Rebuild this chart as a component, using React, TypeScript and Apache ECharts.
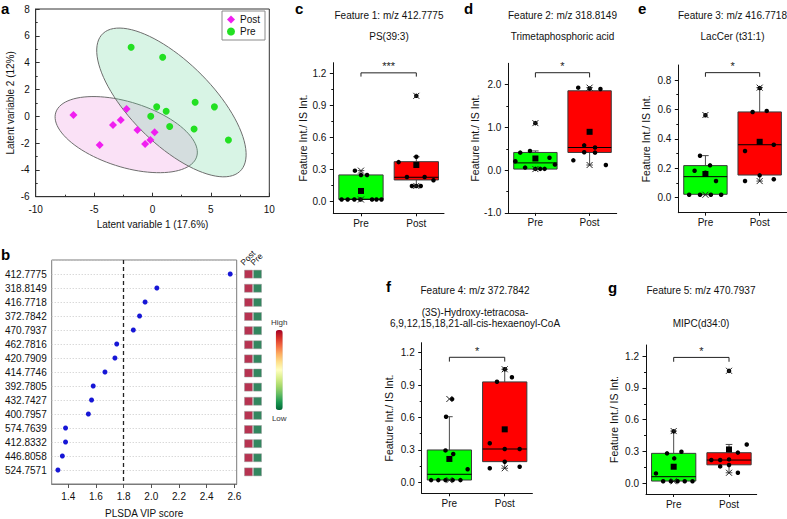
import React, { useEffect, useRef } from 'react';
import * as echarts from 'echarts';

// ---------- Panel a: PLS-DA scores ----------
const postScoreX = [-6.77, -4.52, -3.38, -2.72, -2.22, -1.29, -0.63, -0.18, 0.18];
const postScoreY = [0.1, -2.14, -0.65, -0.27, 0.55, -1.02, -2.06, -1.77, -1.19];
const preScoreX = [-1.83, 0.87, 0.36, 1.17, -0.15, 1.47, 3.65, 3.56, 5.3, 6.5];
const preScoreY = [5.15, 4.4, 0.7, 0.37, 0.0, -0.77, 1.04, -0.95, 0.7, -1.77];
// ellipse: [cx, cy, semi-axis-1 dx, dy, semi-axis-2 dx, dy] in score units
const postEllipse = [-2.25, -1.37, 6.02, -1.68, 0.92, 2.29];
const preEllipse = [1.62, 1.03, 5.84, -5.16, 2.61, 2.04];

// ---------- Panel b: VIP scores ----------
const vipFeatures = ['412.7775', '318.8149', '416.7718', '372.7842', '470.7937', '462.7816', '420.7909', '414.7746', '392.7805', '432.7427', '400.7957', '574.7639', '412.8332', '446.8058', '524.7571'];
const vipScores = [2.57, 2.04, 1.955, 1.915, 1.87, 1.75, 1.737, 1.665, 1.58, 1.568, 1.545, 1.38, 1.38, 1.357, 1.325];
const vipCutoff = 1.8;
const vipTicks = [1.4, 1.6, 1.8, 2.0, 2.2, 2.4, 2.6];
const postLevel = [1, 1, 1, 1, 1, 1, 1, 1, 1, 1, 1, 1, 1, 1, 1];
const preLevel = [0, 0, 0, 0, 0, 0, 0, 0, 0, 0, 0, 0, 0, 0, 0];
const cellGroups = ['Post', 'Pre'];

// ---------- Panels c-g: box plots ----------
const groupNames = ['Pre', 'Post'];
// box: [whiskerLow, Q1, median, Q3, whiskerHigh, mean, min, max]
const cPreVals = [0.29, 0.25, 0.25, 0.02, 0.02, 0.02, 0.02, 0.02, 0.02, 0.02];
const cPreJit = [-0.11, 0.0, 0.11, -0.35, -0.24, -0.12, -0.01, 0.2, 0.28, 0.37];
const cPreBox = [0.02, 0.022, 0.022, 0.25, 0.29, 0.1, 0.02, 0.29];
const cPostVals = [0.37, 0.42, 0.23, 0.23, 0.2, 0.147, 0.147, 0.147, 0.99];
const cPostJit = [-0.32, 0, -0.17, 0.15, 0.31, -0.08, 0, 0.08, 0];
const cPostBox = [0.147, 0.203, 0.228, 0.374, 0.42, 0.343, 0.147, 0.99];
const cTicks = [0, 0.3, 0.6, 0.9, 1.2];
const cBracket = [1.17, 1.205];

const dPreVals = [0.41, 0.45, 0.21, 0.06, 0.29, 0.13, 0.03, 0.03, 0.03, 1.1];
const dPreJit = [-0.28, -0.1, -0.37, -0.19, 0.26, 0.36, 0.0, 0.09, 0.17, 0.0];
const dPreBox = [0.025, 0.025, 0.17, 0.414, 0.45, 0.273, 0.025, 1.1];
const dPostVals = [1.93, 1.91, 1.9, 0.58, 0.42, 0.53, 0.41, 0.23, 0.12];
const dPostJit = [-0.21, 0, 0.2, -0.1, -0.1, 0.1, 0.1, -0.3, 0.3];
const dPostBox = [0.12, 0.414, 0.53, 1.857, 1.93, 0.897, 0.12, 1.93];
const dTicks = [-1, 0, 1, 2];
const dBracket = [2.17, 2.28];

const ePreVals = [0.285, 0.183, 0.17, 0.22, 0.113, 0.02, 0.02, 0.02, 0.02, 0.56];
const ePreJit = [-0.1, -0.2, 0, 0.085, 0.195, -0.3, -0.1, 0.1, 0.29, 0];
const ePreBox = [0.02, 0.023, 0.143, 0.218, 0.286, 0.161, 0.02, 0.562];
const ePostVals = [0.583, 0.59, 0.317, 0.38, 0.36, 0.152, 0.113, 0.125, 0.745];
const ePostJit = [-0.13, 0.13, -0.27, 0, 0.26, 0, -0.27, 0.26, 0];
const ePostBox = [0.113, 0.154, 0.36, 0.583, 0.748, 0.38, 0.113, 0.748];
const eTicks = [0, 0.2, 0.4, 0.6, 0.8];
const eBracket = [0.822, 0.85];

const fPreVals = [0.77, 0.607, 0.295, 0.262, 0.12, 0.02, 0.02, 0.02, 0.02, 0.02];
const fPreJit = [0.05, -0.06, -0.07, 0.07, 0.33, -0.33, -0.2, -0.07, 0.06, 0.2];
const fPreBox = [0.02, 0.021, 0.074, 0.299, 0.607, 0.216, 0.02, 0.771];
const fPostVals = [0.93, 0.972, 1.046, 0.361, 0.308, 0.308, 0.19, 0.13, 0.144];
const fPostJit = [-0.14, 0.13, 0, -0.27, 0, 0.27, 0, -0.27, 0.27];
const fPostBox = [0.13, 0.191, 0.308, 0.929, 1.046, 0.49, 0.13, 1.046];
const fTicks = [0, 0.3, 0.6, 0.9, 1.2];
const fBracket = [1.117, 1.157];

const gPreVals = [0.094, 0.283, 0.236, 0.298, 0.49, 0.02, 0.02, 0.02, 0.02, 0.02];
const gPreJit = [-0.32, -0.12, 0.01, 0.14, 0, -0.19, -0.05, 0.07, 0.2, 0.34];
const gPreBox = [0.02, 0.022, 0.063, 0.283, 0.493, 0.157, 0.02, 0.493];
const gPostVals = [0.22, 0.22, 0.16, 0.226, 0.173, 0.29, 0.367, 0.1, 1.06];
const gPostJit = [-0.32, -0.16, -0.16, 0, 0, 0.16, 0.32, 0.16, 0];
const gPostBox = [0.1, 0.175, 0.22, 0.289, 0.367, 0.32, 0.1, 1.061];
const gTicks = [0, 0.3, 0.6, 0.9, 1.2];
const gBracket = [1.146, 1.187];

const boxPanels = [
  { letter: 'c', titles: ['Feature 1: m/z 412.7775', 'PS(39:3)'], pre: [cPreVals, cPreJit, cPreBox], post: [cPostVals, cPostJit, cPostBox], ticks: cTicks, bracket: cBracket, sig: '***' },
  { letter: 'd', titles: ['Feature 2: m/z 318.8149', 'Trimetaphosphoric acid'], pre: [dPreVals, dPreJit, dPreBox], post: [dPostVals, dPostJit, dPostBox], ticks: dTicks, bracket: dBracket, sig: '*' },
  { letter: 'e', titles: ['Feature 3: m/z 416.7718', 'LacCer (t31:1)'], pre: [ePreVals, ePreJit, ePreBox], post: [ePostVals, ePostJit, ePostBox], ticks: eTicks, bracket: eBracket, sig: '*' },
  { letter: 'f', titles: ['Feature 4: m/z 372.7842', '(3S)-Hydroxy-tetracosa-', '6,9,12,15,18,21-all-cis-hexaenoyl-CoA'], pre: [fPreVals, fPreJit, fPreBox], post: [fPostVals, fPostJit, fPostBox], ticks: fTicks, bracket: fBracket, sig: '*' },
  { letter: 'g', titles: ['Feature 5: m/z 470.7937', 'MIPC(d34:0)'], pre: [gPreVals, gPreJit, gPreBox], post: [gPostVals, gPostJit, gPostBox], ticks: gTicks, bracket: gBracket, sig: '*' },
];

// ---------- layout & style ----------
const FONT = '"Liberation Sans", Arial, Helvetica, sans-serif';
const INK = '#111';
const boxLayouts = [
  { left: 333.3, top: 62.7, width: 110.7, height: 150.6, min: -0.109, max: 1.3, nameGap: 24, cx: 389, ty: [15, 36] },
  { left: 508.3, top: 63.3, width: 108.4, height: 149.6, min: -1, max: 2.5, nameGap: 28, cx: 562.5, ty: [15, 36] },
  { left: 678.3, top: 65, width: 108.5, height: 147.7, min: -0.102, max: 0.902, nameGap: 27, cx: 732.5, ty: [15, 36] },
  { left: 421.7, top: 342.7, width: 110.7, height: 150.6, min: -0.102, max: 1.292, nameGap: 27, cx: 475, ty: [290.7, 312.3, 323.3] },
  { left: 646, top: 345, width: 110.7, height: 149, min: -0.1, max: 1.304, nameGap: 27, cx: 701, ty: [290.7, 323.3] },
];
const letterPos = { a: [1, 8], b: [1, 254.5], c: [295, 8], d: [464, 8], e: [638, 8], f: [386, 286], g: [608, 287] };
const groupFill = ['#00ff00', '#ff0000'];
const heatColors = ['#006837', '#1a9850', '#66bd63', '#a6d96a', '#d9ef8b', '#ffffbf', '#fee08b', '#fdae61', '#f46d43', '#d73027', '#a50026'];
const ellipseFill = ['rgba(232,120,214,0.22)', 'rgba(100,210,150,0.25)'];

function buildOption() {
  const grid: any[] = [];
  const xAxis: any[] = [];
  const yAxis: any[] = [];
  const series: any[] = [];
  const graphic: any[] = [];

  // ----- a -----
  grid.push({ left: 35.7, top: 9, width: 233.6, height: 187.7, show: true, borderColor: '#333', borderWidth: 1 });
  xAxis.push({
    type: 'value', gridIndex: 0, min: -10, max: 10, interval: 5,
    axisLine: { onZero: false, lineStyle: { color: '#333' } },
    axisTick: { inside: true, length: 4, lineStyle: { color: '#333' } },
    minorTick: { show: true, splitNumber: 2, length: 2, lineStyle: { color: '#333' } },
    axisLabel: { fontSize: 10, color: INK, margin: 8 },
    splitLine: { show: false },
    name: 'Latent variable 1 (17.6%)', nameLocation: 'middle', nameGap: 23,
    nameTextStyle: { fontSize: 10, color: INK },
  });
  yAxis.push({
    type: 'value', gridIndex: 0, min: -6, max: 8, interval: 2,
    axisLine: { onZero: false, lineStyle: { color: '#333' } },
    axisTick: { inside: true, length: 4, lineStyle: { color: '#333' } },
    minorTick: { show: true, splitNumber: 2, length: 2, lineStyle: { color: '#333' } },
    axisLabel: { fontSize: 10, color: INK, margin: 6 },
    splitLine: { show: false },
    name: 'Latent variable 2 (12%)', nameLocation: 'middle', nameGap: 20,
    nameTextStyle: { fontSize: 10, color: INK },
  });
  const ellipses = [postEllipse, preEllipse];
  series.push({
    type: 'custom', xAxisIndex: 0, yAxisIndex: 0, silent: true, z: 1,
    data: ellipses.map((e) => e.slice()),
    renderItem: (params: any, api: any) => {
      const v = [0, 1, 2, 3, 4, 5].map((k) => api.value(k));
      const pts: number[][] = [];
      const N = 96;
      for (let k = 0; k < N; k++) {
        const t = (k / N) * Math.PI * 2;
        pts.push(api.coord([v[0] + Math.cos(t) * v[2] + Math.sin(t) * v[4], v[1] + Math.cos(t) * v[3] + Math.sin(t) * v[5]]));
      }
      return { type: 'polygon', shape: { points: pts }, style: { fill: ellipseFill[params.dataIndex], stroke: '#6e6e6e', lineWidth: 1 } };
    },
  });
  series.push({
    type: 'scatter', name: 'Post', xAxisIndex: 0, yAxisIndex: 0, symbol: 'diamond', symbolSize: 8, z: 3,
    itemStyle: { color: '#f01ef0', opacity: 1 },
    data: postScoreX.map((x, i) => [x, postScoreY[i]]),
  });
  series.push({
    type: 'scatter', name: 'Pre', xAxisIndex: 0, yAxisIndex: 0, symbol: 'circle', symbolSize: 7, z: 3,
    itemStyle: { color: '#22e022', opacity: 1 },
    data: preScoreX.map((x, i) => [x, preScoreY[i]]),
  });

  // ----- b -----
  grid.push({ left: 51.7, top: 260, width: 185, height: 226, show: true, borderColor: '#7a7a7a', borderWidth: 1 });
  xAxis.push({
    type: 'value', gridIndex: 1, min: 1.28, max: 2.617,
    axisLine: { onZero: false, lineStyle: { color: '#7a7a7a' } },
    axisTick: { customValues: vipTicks, length: 4, lineStyle: { color: '#555' } },
    axisLabel: { customValues: vipTicks, formatter: (v: number) => v.toFixed(1), fontSize: 10, color: INK, margin: 7 },
    splitLine: { show: false },
    name: 'PLSDA VIP score', nameLocation: 'middle', nameGap: 24,
    nameTextStyle: { fontSize: 10, color: INK },
  });
  yAxis.push({
    type: 'value', gridIndex: 1, min: -1, max: 15, interval: 1, inverse: true,
    axisLine: { show: false, onZero: false },
    axisTick: { show: false },
    axisLabel: { formatter: (v: number) => vipFeatures[v] ?? '', fontSize: 10, color: INK, margin: 5 },
    splitLine: { show: true, lineStyle: { type: [1, 2], color: '#c8c8c8', width: 1 } },
  });
  series.push({
    type: 'scatter', xAxisIndex: 1, yAxisIndex: 1, symbolSize: 5, z: 3,
    itemStyle: { color: '#1616d6', opacity: 1 },
    data: vipScores.map((s, i) => [s, i]),
    markLine: {
      silent: true, symbol: 'none', label: { show: false },
      lineStyle: { type: [4, 3], color: '#222', width: 1.3 },
      data: [{ xAxis: vipCutoff }],
    },
  });
  // heat cells
  grid.push({ left: 244, top: 260, width: 18, height: 226 });
  xAxis.push({ type: 'value', gridIndex: 2, min: 0, max: 2, show: false });
  yAxis.push({ type: 'value', gridIndex: 2, min: -1, max: 15, inverse: true, show: false });
  const cellData: number[][] = [];
  vipFeatures.forEach((_, i) => {
    cellData.push([0.5, i, postLevel[i]]);
    cellData.push([1.5, i, preLevel[i]]);
  });
  const cellSeriesIndex = series.length;
  series.push({
    type: 'scatter', xAxisIndex: 2, yAxisIndex: 2, symbol: 'rect', symbolSize: [8, 8],
    itemStyle: { borderColor: '#9a9a9a', borderWidth: 0.6 },
    data: cellData,
  });
  cellGroups.forEach((g, k) => {
    graphic.push({
      type: 'text', x: 245 + k * 10, y: 267, rotation: Math.PI / 4,
      style: { text: g, fontSize: 8.5, fontFamily: FONT, fill: INK, align: 'left', verticalAlign: 'bottom', textAlign: 'left', textVerticalAlign: 'bottom' },
    });
  });

  // ----- c-g -----
  boxPanels.forEach((p, i) => {
    const L = boxLayouts[i];
    const gi = 3 + i;
    const yMain = 3 + i * 2;
    const minor: number[] = [];
    for (let k = 0; k < p.ticks.length - 1; k++) minor.push((p.ticks[k] + p.ticks[k + 1]) / 2);
    grid.push({ left: L.left, top: L.top, width: L.width, height: L.height });
    xAxis.push({
      type: 'value', gridIndex: gi, min: 0, max: 2,
      axisLine: { onZero: false, lineStyle: { color: INK } },
      axisTick: { customValues: [0.5, 1.5], length: 3, lineStyle: { color: INK } },
      axisLabel: { customValues: [0.5, 1.5], formatter: (v: number) => groupNames[Math.floor(v)], fontSize: 10, color: INK, margin: 5 },
      splitLine: { show: false },
    });
    yAxis.push({
      type: 'value', gridIndex: gi, min: L.min, max: L.max, position: 'left',
      axisLine: { show: true, onZero: false, lineStyle: { color: INK } },
      axisTick: { customValues: p.ticks, length: 3.5, lineStyle: { color: INK } },
      axisLabel: { customValues: p.ticks, formatter: (v: number) => v.toFixed(1), fontSize: 10, color: INK, margin: 7 },
      splitLine: { show: false },
      name: 'Feature Int./ IS Int.', nameLocation: 'middle', nameGap: L.nameGap,
      nameTextStyle: { fontSize: 10.5, color: INK },
    });
    yAxis.push({
      type: 'value', gridIndex: gi, min: L.min, max: L.max, position: 'left',
      axisLine: { show: false, onZero: false },
      axisTick: { customValues: minor, length: 2, lineStyle: { color: INK } },
      axisLabel: { show: false },
      splitLine: { show: false },
    });
    const groups = [p.pre, p.post];
    // boxes
    series.push({
      type: 'custom', xAxisIndex: gi, yAxisIndex: yMain, silent: true, z: 2,
      data: groups.map((g, k) => ({ value: [k + 0.5, g[2][0], g[2][1], g[2][2], g[2][3], g[2][4]], itemStyle: { color: groupFill[k] } })),
      renderItem: (params: any, api: any) => {
        const c = api.value(0);
        const wl = api.value(1), q1 = api.value(2), md = api.value(3), q3 = api.value(4), wh = api.value(5);
        const hw = 0.4, cw = 0.06;
        const tl = api.coord([c - hw, q3]);
        const br = api.coord([c + hw, q1]);
        const wStyle = { stroke: '#4a4a4a', lineWidth: 1 };
        const seg = (a: number[], b: number[], st: any) => ({ type: 'line', shape: { x1: a[0], y1: a[1], x2: b[0], y2: b[1] }, style: st });
        return {
          type: 'group',
          children: [
            seg(api.coord([c, q3]), api.coord([c, wh]), wStyle),
            seg(api.coord([c - cw, wh]), api.coord([c + cw, wh]), wStyle),
            seg(api.coord([c, q1]), api.coord([c, wl]), wStyle),
            seg(api.coord([c - cw, wl]), api.coord([c + cw, wl]), wStyle),
            { type: 'rect', shape: { x: tl[0], y: tl[1], width: br[0] - tl[0], height: Math.max(br[1] - tl[1], 1) }, style: { fill: api.visual('color'), stroke: '#3a3a3a', lineWidth: 1 } },
            seg(api.coord([c - hw, md]), api.coord([c + hw, md]), { stroke: '#000', lineWidth: 1 }),
          ],
        };
      },
    });
    // points
    groups.forEach((g, k) => {
      series.push({
        type: 'scatter', xAxisIndex: gi, yAxisIndex: yMain, symbolSize: 4.5, z: 3, silent: true,
        itemStyle: { color: '#000', opacity: 1 },
        data: g[0].map((v, j) => [k + 0.5 + g[1][j], v]),
      });
    });
    // mean squares and min/max crosses
    series.push({
      type: 'custom', xAxisIndex: gi, yAxisIndex: yMain, silent: true, z: 4,
      itemStyle: { color: '#000' },
      data: groups.map((g, k) => [k + 0.5, g[2][5], g[2][6], g[2][7]]),
      renderItem: (params: any, api: any) => {
        const c = api.value(0);
        const m = api.coord([c, api.value(1)]);
        const cross = (pt: number[]) => [
          { type: 'line', shape: { x1: pt[0] - 3, y1: pt[1] - 3, x2: pt[0] + 3, y2: pt[1] + 3 }, style: { stroke: '#222', lineWidth: 1 } },
          { type: 'line', shape: { x1: pt[0] - 3, y1: pt[1] + 3, x2: pt[0] + 3, y2: pt[1] - 3 }, style: { stroke: '#222', lineWidth: 1 } },
        ];
        return {
          type: 'group',
          children: [
            { type: 'rect', shape: { x: m[0] - 3, y: m[1] - 3, width: 6, height: 6 }, style: { fill: '#000' } },
            ...cross(api.coord([c, api.value(2)])),
            ...cross(api.coord([c, api.value(3)])),
          ],
        };
      },
    });
    // significance bracket
    const br = p.bracket;
    const sig = p.sig;
    series.push({
      type: 'custom', xAxisIndex: gi, yAxisIndex: yMain, silent: true, z: 4,
      itemStyle: { color: '#222' },
      data: [[1, br[1]]],
      renderItem: (params: any, api: any) => {
        const a = api.coord([0.5, br[0]]);
        const b = api.coord([0.5, br[1]]);
        const c = api.coord([1.5, br[1]]);
        const d = api.coord([1.5, br[0]]);
        const mid = api.coord([1, br[1]]);
        return {
          type: 'group',
          children: [
            { type: 'polyline', shape: { points: [a, b, c, d] }, style: { stroke: '#222', lineWidth: 1, fill: 'none' } },
            { type: 'text', x: mid[0], y: mid[1] - 1, style: { text: sig, fontSize: 11, fontFamily: FONT, fill: '#1a1a1a', textFill: '#1a1a1a', stroke: 'none', align: 'center', verticalAlign: 'bottom', textAlign: 'center', textVerticalAlign: 'bottom' } },
          ],
        };
      },
    });
    // titles
    p.titles.forEach((t, k) => {
      graphic.push({
        type: 'text', x: L.cx, y: L.ty[k],
        style: { text: t, fontSize: 10, fontFamily: FONT, fill: INK, align: 'center', verticalAlign: 'middle', textAlign: 'center', textVerticalAlign: 'middle' },
      });
    });
  });

  Object.entries(letterPos).forEach(([l, pos]) => {
    graphic.push({
      type: 'text', x: pos[0], y: pos[1],
      style: { text: l, fontSize: 15, fontWeight: 'bold', fontFamily: FONT, fill: '#000', align: 'left', verticalAlign: 'middle', textAlign: 'left', textVerticalAlign: 'middle' },
    });
  });

  return {
    animation: false,
    backgroundColor: '#fff',
    textStyle: { fontFamily: FONT },
    grid,
    xAxis,
    yAxis,
    legend: {
      data: ['Post', 'Pre'], orient: 'vertical', left: 222, top: 11,
      itemWidth: 8, itemHeight: 8, itemGap: 1, padding: [3, 5, 3, 5],
      borderColor: '#8a8a8a', borderWidth: 1, backgroundColor: '#fff',
      textStyle: { fontSize: 10, color: INK, lineHeight: 11 },
      selectedMode: false,
    },
    visualMap: {
      type: 'continuous', min: 0, max: 1, dimension: 2, seriesIndex: [cellSeriesIndex],
      inRange: { color: heatColors }, orient: 'vertical', left: 271, top: 318,
      itemWidth: 7, itemHeight: 80, text: ['High', 'Low'], textGap: 4, calculable: false,
      textStyle: { fontSize: 8, color: '#333' }, padding: 0,
    },
    graphic,
    series,
  };
}

export default function App() {
  const ref = useRef<HTMLDivElement>(null);
  useEffect(() => {
    const chart = echarts.init(ref.current as HTMLDivElement, undefined, { renderer: 'svg' });
    chart.setOption(buildOption() as any);
    return () => chart.dispose();
  }, []);
  return <div ref={ref} style={{ position: 'fixed', left: 0, top: 0, width: 787, height: 519, background: '#fff' }} />;
}
